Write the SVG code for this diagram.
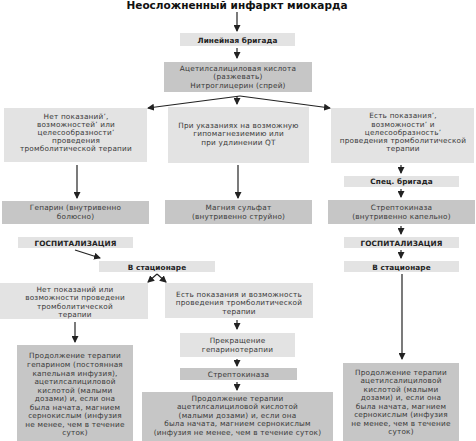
<svg xmlns="http://www.w3.org/2000/svg" width="476" height="441" viewBox="0 0 476 441">
<defs>
<style>
.lt{fill:#e3e3e3}
.dk{fill:#c6c6c6}
text{font-family:"DejaVu Sans","Liberation Sans",sans-serif;font-size:7.3px;letter-spacing:0.2px;fill:#3a3a3a;text-anchor:middle}
.b{font-weight:bold;fill:#222;letter-spacing:0.1px}
.title{font-size:10.5px;font-weight:bold;fill:#111;letter-spacing:0}
.c line,.c path{stroke:#222;stroke-width:1.2;fill:none;marker-end:url(#ah)}
</style>
<marker id="ah" markerUnits="userSpaceOnUse" markerWidth="7" markerHeight="7" refX="6" refY="3.5" orient="auto">
<path d="M0,0 L7,3.5 L0,7 z" fill="#222"/>
</marker>
</defs>
<rect width="476" height="441" fill="#fff"/>

<g id="title"><text class="title" x="237" y="9">Неосложненный инфаркт миокарда</text></g>

<g id="n-lin"><rect class="lt" x="180" y="33" width="115" height="13"/><text class="b" x="237.5" y="42.5">Линейная бригада</text></g>

<g id="n-asa"><rect class="dk" x="164" y="62" width="148" height="30"/>
<text x="238" y="71">Ацетилсалициловая кислота</text>
<text x="238" y="79">(разжевать)</text>
<text x="238" y="87.5">Нитроглицерин (спрей)</text></g>

<g id="n-no"><rect class="lt" x="4" y="108" width="143" height="54"/>
<text x="76" y="119">Нет показаний’,</text>
<text x="76" y="127">возможностей’ или</text>
<text x="76" y="135">целесообразности’</text>
<text x="76" y="143">проведения</text>
<text x="76" y="151">тромболитической терапии</text></g>

<g id="n-mid"><rect class="lt" x="168" y="107" width="141" height="56"/>
<text x="238.5" y="128">При указаниях на возможную</text>
<text x="238.5" y="136">гипомагнезиемию или</text>
<text x="238.5" y="145">при удлинении QT</text></g>

<g id="n-yes"><rect class="lt" x="331" y="108" width="143" height="55"/>
<text x="403" y="118">Есть показания’,</text>
<text x="403" y="127">возможности’ и</text>
<text x="403" y="135">целесообразность’</text>
<text x="403" y="143">проведения тромболитической</text>
<text x="403" y="151">терапии</text></g>

<g id="n-spec"><rect class="lt" x="344" y="176" width="115" height="11"/><text class="b" x="401.5" y="184">Спец. бригада</text></g>

<g id="n-hep"><rect class="dk" x="2" y="201" width="147" height="23"/>
<text x="75.5" y="210">Гепарин (внутривенно</text>
<text x="75.5" y="219">болюсно)</text></g>

<g id="n-mg"><rect class="dk" x="165" y="200" width="147" height="24"/>
<text x="238.5" y="209.5">Магния сульфат</text>
<text x="238.5" y="218.5">(внутривенно струйно)</text></g>

<g id="n-strep1"><rect class="dk" x="328" y="200" width="147" height="24"/>
<text x="401.5" y="209.5">Стрептокиназа</text>
<text x="401.5" y="218.5">(внутривенно капельно)</text></g>

<g id="n-hosp1"><rect class="lt" x="18" y="237" width="115" height="11"/><text class="b" x="75.5" y="245.5">ГОСПИТАЛИЗАЦИЯ</text></g>
<g id="n-stat1"><rect class="lt" x="99" y="261" width="116" height="11"/><text class="b" x="157" y="269.5">В стационаре</text></g>

<g id="n-hosp2"><rect class="lt" x="344" y="237" width="115" height="11"/><text class="b" x="401.5" y="245.5">ГОСПИТАЛИЗАЦИЯ</text></g>
<g id="n-stat2"><rect class="lt" x="344" y="261" width="115" height="11"/><text class="b" x="401.5" y="269.5">В стационаре</text></g>

<g id="n-no2"><rect class="lt" x="0" y="283" width="148" height="36"/>
<text x="75" y="292">Нет показаний или</text>
<text x="75" y="300">возможности проведени</text>
<text x="75" y="308.5">тромболитической</text>
<text x="75" y="316.5">терапии</text></g>

<g id="n-cont1"><rect class="dk" x="17" y="345" width="116" height="96"/>
<text x="75" y="358">Продолжение терапии</text>
<text x="75" y="367">гепарином (постоянная</text>
<text x="75" y="375.5">капельная инфузия),</text>
<text x="75" y="384">ацетилсалициловой</text>
<text x="75" y="392.5">кислотой (малыми</text>
<text x="75" y="401">дозами) и, если она</text>
<text x="75" y="409.5">была начата, магнием</text>
<text x="75" y="418">сернокислым (инфузия</text>
<text x="75" y="426.5">не менее, чем в течение</text>
<text x="75" y="435">суток)</text></g>

<g id="n-yes2"><rect class="lt" x="165" y="283" width="148" height="35"/>
<text x="239" y="297">Есть показания и возможность</text>
<text x="239" y="305">проведения тромболитической</text>
<text x="239" y="314">терапии</text></g>

<g id="n-stop"><rect class="lt" x="180" y="333" width="115" height="24"/>
<text x="237.5" y="343">Прекращение</text>
<text x="237.5" y="352">гепаринотерапии</text></g>

<g id="n-strep2"><rect class="dk" x="180" y="368" width="117" height="12"/>
<text x="238.5" y="376.5">Стрептокиназа</text></g>

<g id="n-cont2"><rect class="dk" x="142" y="392" width="191" height="49"/>
<text x="237.5" y="400.5">Продолжение терапии</text>
<text x="237.5" y="409">ацетилсалициловой кислотой</text>
<text x="237.5" y="417.5">(малыми дозами) и, если она</text>
<text x="237.5" y="426">была начата, магнием сернокислым</text>
<text x="237.5" y="434.5">(инфузия не менее, чем в течение суток)</text></g>

<g id="n-cont3"><rect class="dk" x="343" y="363" width="116" height="78"/>
<text x="401" y="374.5">Продолжение терапии</text>
<text x="401" y="383">ацетилсалициловой</text>
<text x="401" y="391.5">кислотой (малыми</text>
<text x="401" y="400">дозами) и, если она</text>
<text x="401" y="408.5">была начата, магнием</text>
<text x="401" y="417">сернокислым (инфузия</text>
<text x="401" y="425.5">не менее, чем в течение</text>
<text x="401" y="434">суток)</text></g>

<g id="connectors" class="c">
<line x1="237" y1="12" x2="237" y2="31"/>
<line x1="237" y1="48" x2="237" y2="58"/>
<line x1="240" y1="96" x2="148" y2="108"/>
<line x1="237" y1="96" x2="237" y2="104"/>
<line x1="240" y1="96" x2="330" y2="108"/>
<line x1="77" y1="165" x2="77" y2="198"/>
<line x1="238" y1="165" x2="238" y2="198"/>
<line x1="401" y1="165" x2="401" y2="173"/>
<line x1="401" y1="189" x2="401" y2="197"/>
<line x1="401" y1="226" x2="401" y2="234"/>
<line x1="401" y1="250" x2="401" y2="258"/>
<line x1="75" y1="250" x2="100" y2="258"/>
<line x1="157" y1="274" x2="148" y2="282"/>
<line x1="157" y1="274" x2="166" y2="282"/>
<line x1="402" y1="274" x2="402" y2="359"/>
<line x1="75" y1="322" x2="75" y2="342"/>
<line x1="237" y1="320" x2="237" y2="329"/>
<line x1="237" y1="359" x2="237" y2="366"/>
<line x1="237" y1="382" x2="237" y2="390"/>
</g>
</svg>
